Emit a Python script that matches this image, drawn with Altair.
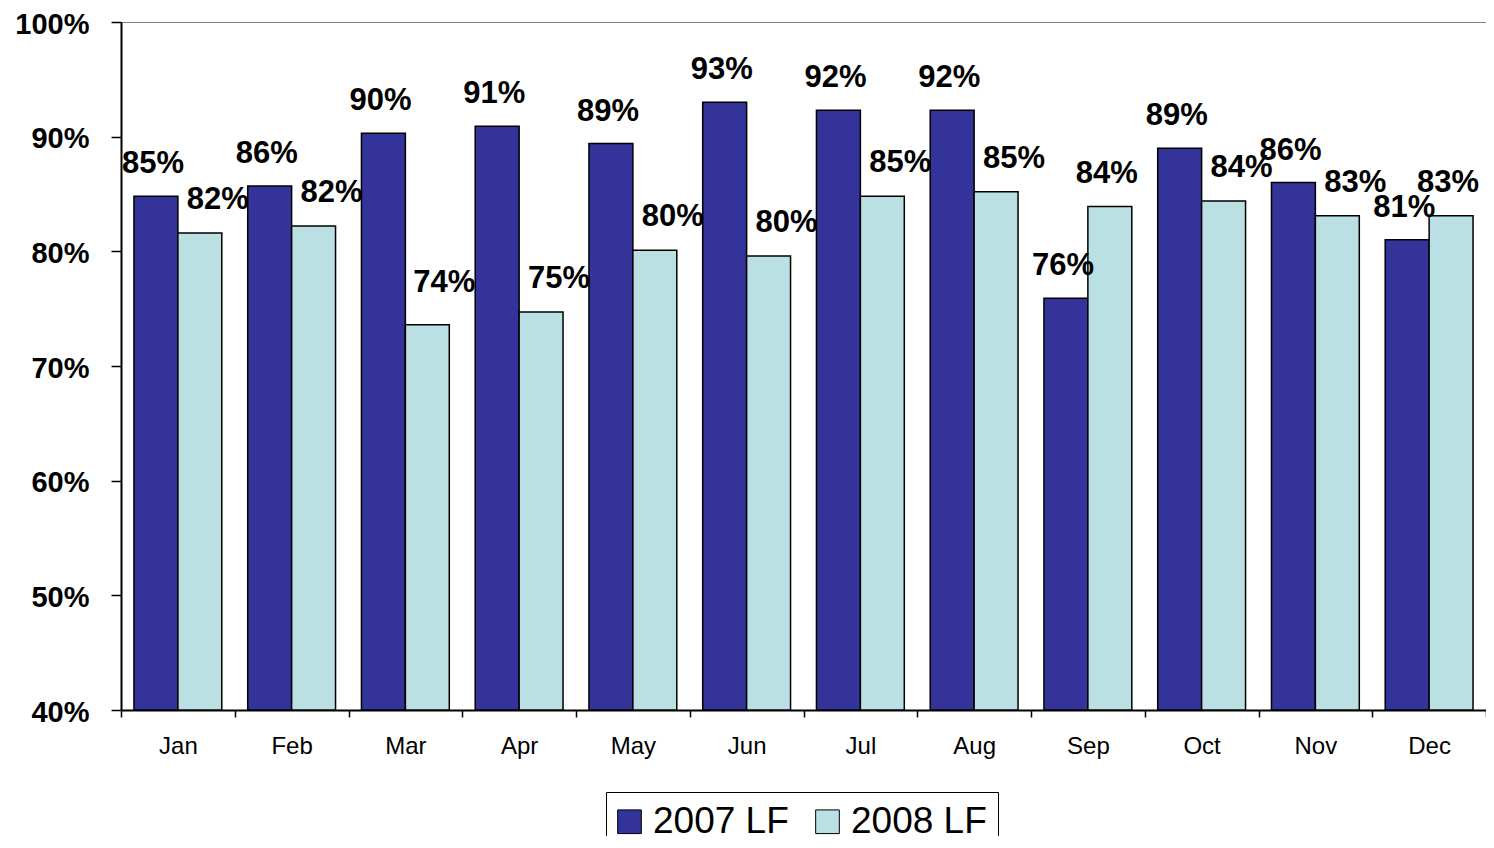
import altair as alt
import pandas as pd

months = ["Jan", "Feb", "Mar", "Apr", "May", "Jun", "Jul", "Aug", "Sep", "Oct", "Nov", "Dec"]
lf_2007 = [84.8, 85.7, 90.3, 90.9, 89.4, 93.0, 92.3, 92.3, 75.9, 89.0, 86.0, 81.0]
lf_2008 = [81.6, 82.2, 73.6, 74.7, 80.1, 79.6, 84.8, 85.2, 83.9, 84.4, 83.1, 83.1]
series = ["2007 LF", "2008 LF"]
colors = ["#333399", "#BBE0E3"]
y_ticks = [0.4, 0.5, 0.6, 0.7, 0.8, 0.9, 1.0]

rows = []
for i, m in enumerate(months):
    rows.append({"month": m, "series": series[0], "value": lf_2007[i] / 100})
    rows.append({"month": m, "series": series[1], "value": lf_2008[i] / 100})
df = pd.DataFrame(rows)

FONT = "Liberation Sans"

x_enc = alt.X(
    "month:N", sort=months, title=None,
    scale=alt.Scale(paddingInner=0, paddingOuter=0),
    axis=alt.Axis(labelAngle=0, tickBand="extent", tickSize=7, tickWidth=1.5,
                  labelFontSize=24, labelFont=FONT, labelColor="black",
                  domainColor="black", domainWidth=2, tickColor="black",
                  labelPadding=17),
)
y_enc = alt.Y(
    "value:Q", title=None,
    scale=alt.Scale(domain=[0.4, 1.0], zero=False, nice=False),
    axis=alt.Axis(format=".0%", values=y_ticks, tickSize=10, tickWidth=1.5,
                  labelFontSize=29, labelFont=FONT, labelFontWeight="bold",
                  labelColor="black", domainColor="black", domainWidth=2,
                  tickColor="black", labelPadding=22, labelOffset=2, grid=False),
)
xoff = alt.XOffset("series:N", sort=series,
                   scale=alt.Scale(domain=series, paddingInner=0, paddingOuter=0.295))

bars = alt.Chart(df).mark_bar(stroke="black", strokeWidth=1.5).encode(
    x=x_enc,
    xOffset=xoff,
    y=y_enc,
    y2=alt.datum(0.4),
    color=alt.Color(
        "series:N",
        scale=alt.Scale(domain=series, range=colors),
        legend=alt.Legend(
            title=None, orient="none", legendX=485, legendY=770,
            direction="horizontal", strokeColor="black", padding=11,
            symbolOffset=-6,
            symbolType="square", symbolSize=560, symbolStrokeColor="black",
            symbolStrokeWidth=1, symbolOpacity=1,
            labelFontSize=37, labelFont=FONT, labelColor="black",
            columnPadding=24, labelOffset=5,
        ),
    ),
)


def labels(cond, dx, dy):
    return alt.Chart(df).transform_filter(cond).mark_text(
        fontSize=31, fontWeight="bold", font=FONT, color="black",
        baseline="middle", align="center", dy=dy, dx=dx,
    ).encode(
        x=alt.X("month:N", sort=months),
        xOffset=xoff,
        y=alt.Y("value:Q"),
        text=alt.Text("value:Q", format=".0%"),
    )


edge = "(datum.month == 'Sep' || datum.month == 'Dec')"
raised = "(datum.month == 'Mar')"
is07 = f"datum.series == '{series[0]}'"
is08 = f"datum.series == '{series[1]}'"
l07 = labels(is07, -3, -32)
l08 = labels(f"{is08} && !{edge} && !{raised}", 18, -33)
l08_edge = labels(f"{is08} && {edge}", -3, -33)
l08_raised = labels(f"{is08} && {raised}", 17, -42)

chart = alt.layer(bars, l07, l08, l08_edge, l08_raised).properties(
    width=1365, height=688,
    autosize=alt.AutoSizeParams(type="none"),
    padding={"left": 113, "top": 14, "right": 0, "bottom": 126},
    background="white",
).configure_view(stroke="#808080", strokeWidth=1)

chart.save("out.html", embed_options={"renderer": "svg", "actions": False})
